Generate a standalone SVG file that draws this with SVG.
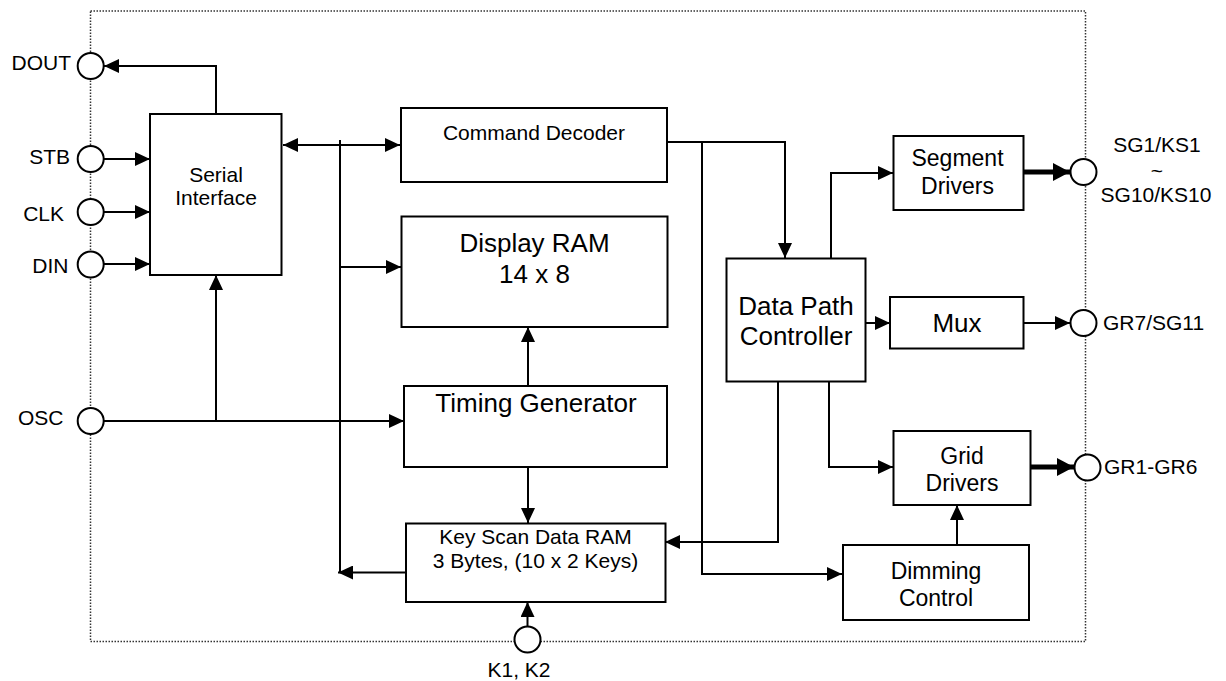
<svg xmlns="http://www.w3.org/2000/svg" width="1226" height="681" viewBox="0 0 1226 681">
  <style>
    text { font-family: "Liberation Sans", Arial, sans-serif; fill: #000; }
    .s { font-size: 21px; }
    .m { font-size: 23px; }
    .l { font-size: 26px; }
    .c { text-anchor: middle; }
    .e { text-anchor: end; }
    .box { fill: #fff; stroke: #000; stroke-width: 2; }
    .pin { fill: #fff; stroke: #000; stroke-width: 2; }
    .wire { fill: none; stroke: #000; stroke-width: 2; }
    .bus { fill: none; stroke: #000; stroke-width: 5; }
    .arr { marker-end: url(#ah); }
    .fat { marker-end: url(#ahb); }
  </style>
  <defs>
    <marker id="ah" markerUnits="userSpaceOnUse" markerWidth="16" markerHeight="14" refX="15" refY="7" orient="auto">
      <path d="M0,0 L15,7 L0,14 z" fill="#000"/>
    </marker>
    <marker id="ahs" markerUnits="userSpaceOnUse" markerWidth="16" markerHeight="14" refX="0" refY="7" orient="auto">
      <path d="M15,0 L0,7 L15,14 z" fill="#000"/>
    </marker>
    <marker id="ahb" markerUnits="userSpaceOnUse" markerWidth="18" markerHeight="18" refX="17" refY="9" orient="auto">
      <path d="M0,0 L17,9 L0,18 z" fill="#000"/>
    </marker>
  </defs>

  <!-- chip outline -->
  <rect id="chip-boundary" x="90.5" y="11" width="995" height="630.5" fill="none" stroke="#333" stroke-width="1.5" stroke-dasharray="1.5 1.5"/>

  <!-- signal connectors -->
  <g id="connectors">
    <polyline class="wire arr" points="216,114 216,66 104,66"/>
    <line class="wire arr" x1="104" y1="159" x2="150" y2="159"/>
    <line class="wire arr" x1="104" y1="212" x2="150" y2="212"/>
    <line class="wire arr" x1="104" y1="264" x2="150" y2="264"/>
    <line class="wire arr" x1="104" y1="421" x2="404" y2="421"/>
    <line class="wire arr" x1="216" y1="421" x2="216" y2="275"/>
    <line class="wire" x1="283" y1="145" x2="400" y2="145" marker-start="url(#ahs)" marker-end="url(#ah)"/>
    <line class="wire" x1="340" y1="140" x2="340" y2="573"/>
    <line class="wire arr" x1="340" y1="267" x2="401" y2="267"/>
    <line class="wire arr" x1="409" y1="572.5" x2="338" y2="572.5"/>
    <line class="wire arr" x1="528" y1="386" x2="528" y2="327"/>
    <line class="wire arr" x1="528" y1="467" x2="528" y2="523"/>
    <line class="wire arr" x1="527.5" y1="626" x2="527.5" y2="602"/>
    <polyline class="wire arr" points="663,142 785,142 785,258"/>
    <polyline class="wire arr" points="702,142 702,574 842,574"/>
    <polyline class="wire arr" points="831,258 831,173 893,173"/>
    <line class="wire arr" x1="865" y1="323" x2="890" y2="323"/>
    <line class="wire arr" x1="1023" y1="323" x2="1070" y2="323"/>
    <polyline class="wire arr" points="778,382 778,542 665,542"/>
    <polyline class="wire arr" points="829,382 829,467 893,467"/>
    <line class="wire arr" x1="957" y1="545" x2="957" y2="505"/>
    <line class="bus fat" x1="1023" y1="172" x2="1070" y2="172"/>
    <line class="bus fat" x1="1031" y1="467" x2="1074" y2="467"/>
  </g>

  <!-- functional blocks -->
  <g id="serial-interface">
    <rect class="box" x="150" y="114" width="131.5" height="161"/>
    <text class="s c" x="216" y="182">Serial</text>
    <text class="s c" x="216" y="205">Interface</text>
  </g>
  <g id="command-decoder">
    <rect class="box" x="401" y="108" width="266" height="74"/>
    <text class="s c" x="534" y="139.5">Command Decoder</text>
  </g>
  <g id="display-ram">
    <rect class="box" x="401.5" y="216.5" width="266" height="110.5"/>
    <text class="l c" x="534.5" y="251.5">Display RAM</text>
    <text class="l c" x="534.5" y="282.5">14 x 8</text>
  </g>
  <g id="timing-generator">
    <rect class="box" x="404" y="386" width="263" height="81"/>
    <text class="l c" x="536" y="411.5">Timing Generator</text>
  </g>
  <g id="key-scan-ram">
    <rect class="box" x="406" y="523.5" width="259.5" height="78.5"/>
    <text class="s c" x="535.5" y="543.5">Key Scan Data RAM</text>
    <text class="s c" x="535.5" y="567.5">3 Bytes, (10 x 2 Keys)</text>
  </g>
  <g id="data-path-controller">
    <rect class="box" x="726.5" y="258.5" width="139" height="123"/>
    <text class="l c" x="796" y="315">Data Path</text>
    <text class="l c" x="796" y="345">Controller</text>
  </g>
  <g id="segment-drivers">
    <rect class="box" x="893.5" y="136" width="130" height="74"/>
    <text class="m c" x="957.5" y="166">Segment</text>
    <text class="m c" x="957.5" y="193.5">Drivers</text>
  </g>
  <g id="mux">
    <rect class="box" x="890" y="297" width="133.5" height="51.5"/>
    <text class="l c" x="957" y="331.5">Mux</text>
  </g>
  <g id="grid-drivers">
    <rect class="box" x="893.5" y="431" width="137" height="74"/>
    <text class="m c" x="962" y="463.5">Grid</text>
    <text class="m c" x="962" y="490.5">Drivers</text>
  </g>
  <g id="dimming-control">
    <rect class="box" x="843" y="545" width="186" height="75"/>
    <text class="m c" x="936" y="579">Dimming</text>
    <text class="m c" x="936" y="605.5">Control</text>
  </g>

  <!-- pins -->
  <g id="pin-dout">
    <circle class="pin" cx="90.7" cy="66" r="13"/>
    <text class="s e" x="71" y="69.5">DOUT</text>
  </g>
  <g id="pin-stb">
    <circle class="pin" cx="90.7" cy="159" r="13"/>
    <text class="s e" x="70" y="164">STB</text>
  </g>
  <g id="pin-clk">
    <circle class="pin" cx="90.7" cy="212" r="13"/>
    <text class="s e" x="64" y="220.5">CLK</text>
  </g>
  <g id="pin-din">
    <circle class="pin" cx="90.7" cy="264.5" r="13"/>
    <text class="s e" x="68.5" y="272.5">DIN</text>
  </g>
  <g id="pin-osc">
    <circle class="pin" cx="90.7" cy="421" r="13"/>
    <text class="s e" x="63.5" y="425">OSC</text>
  </g>
  <g id="pin-k">
    <circle class="pin" cx="527.5" cy="639.5" r="13"/>
    <text class="s c" x="519" y="676.5">K1, K2</text>
  </g>
  <g id="pin-sg">
    <circle class="pin" cx="1083.5" cy="172" r="13"/>
    <text class="s c" x="1157" y="151.5">SG1/KS1</text>
    <text class="s c" x="1157" y="178">~</text>
    <text class="s c" x="1156" y="201.5">SG10/KS10</text>
  </g>
  <g id="pin-gr7">
    <circle class="pin" cx="1083.5" cy="323" r="13"/>
    <text class="s" x="1103" y="330">GR7/SG11</text>
  </g>
  <g id="pin-gr">
    <circle class="pin" cx="1087.5" cy="467.5" r="13"/>
    <text class="s" x="1104" y="473.5">GR1-GR6</text>
  </g>
</svg>
